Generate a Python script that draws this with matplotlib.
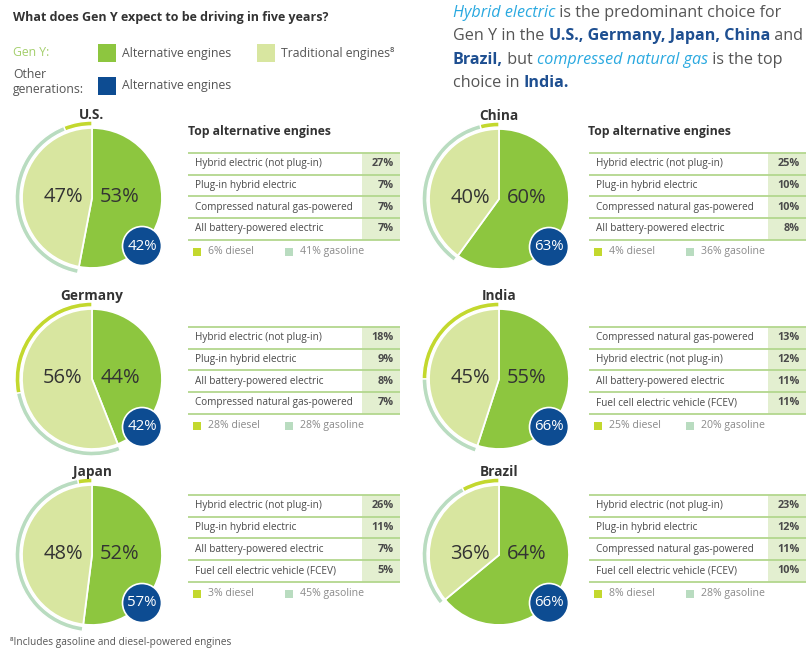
import matplotlib
matplotlib.use("Agg")
import matplotlib.pyplot as plt
from matplotlib.patches import Rectangle, Circle

plt.rcParams['font.family'] = ['Open Sans', 'DejaVu Sans']

# ---------------- data ----------------
countries = ["U.S.", "China", "Germany", "India", "Japan", "Brazil"]
genY_alt = [53, 60, 44, 55, 52, 64]
genY_trad = [47, 40, 56, 45, 48, 36]
other_alt = [42, 63, 42, 66, 57, 66]
diesel = [6, 4, 28, 25, 3, 8]
gasoline = [41, 36, 28, 20, 45, 28]

engines_us = ["Hybrid electric (not plug-in)", "Plug-in hybrid electric",
              "Compressed natural gas-powered", "All battery-powered electric"]
values_us = [27, 7, 7, 7]
engines_china = ["Hybrid electric (not plug-in)", "Plug-in hybrid electric",
                 "Compressed natural gas-powered", "All battery-powered electric"]
values_china = [25, 10, 10, 8]
engines_germany = ["Hybrid electric (not plug-in)", "Plug-in hybrid electric",
                   "All battery-powered electric", "Compressed natural gas-powered"]
values_germany = [18, 9, 8, 7]
engines_india = ["Compressed natural gas-powered", "Hybrid electric (not plug-in)",
                 "All battery-powered electric", "Fuel cell electric vehicle (FCEV)"]
values_india = [13, 12, 11, 11]
engines_japan = ["Hybrid electric (not plug-in)", "Plug-in hybrid electric",
                 "All battery-powered electric", "Fuel cell electric vehicle (FCEV)"]
values_japan = [26, 11, 7, 5]
engines_brazil = ["Hybrid electric (not plug-in)", "Plug-in hybrid electric",
                  "Compressed natural gas-powered", "Fuel cell electric vehicle (FCEV)"]
values_brazil = [23, 12, 11, 10]

engines = [engines_us, engines_china, engines_germany, engines_india, engines_japan, engines_brazil]
values = [values_us, values_china, values_germany, values_india, values_japan, values_brazil]

title = "What does Gen Y expect to be driving in five years?"
footnote = "\u2078Includes gasoline and diesel-powered engines"

# ---------------- style ----------------
W, H = 811, 653
C_ALT = "#8dc63f"
C_TRAD = "#d8e6a0"
C_DIESEL = "#c3d82e"
C_GAS = "#b9dcc0"
C_BLUE = "#0d4c92"
C_LINE = "#b3d78e"
C_CELL = "#e3efd0"
C_TXT = "#4a4a4a"
C_GRAY = "#8a8a8a"
C_CYAN = "#2aa9e0"
C_BOLDBLUE = "#1e4f91"

fig = plt.figure(figsize=(W / 100, H / 100), dpi=100)
ax = fig.add_axes([0, 0, 1, 1])


def Y(y):
    return H - y


# panel layout (pixel coords, top-left origin)
pie_cx = [92, 499, 92, 499, 92, 499]
pie_cy = [198, 199, 379, 379, 555, 555]
tab_left = [188, 589, 188, 589, 188, 589]
tab_right = [400, 806, 400, 806, 400, 806]
tab_top = [153, 153, 327, 327, 495, 495]
R = 70
ROW_H = 21.7

for i, c in enumerate(countries):
    cx, cy = pie_cx[i], Y(pie_cy[i])
    # outer ring: traditional split
    ring, _ = ax.pie([diesel[i], gasoline[i], genY_alt[i]], center=(cx, cy), radius=R + 7,
                     startangle=90, counterclock=True,
                     colors=[C_DIESEL, C_GAS, "white"],
                     wedgeprops=dict(width=5, edgecolor="white", linewidth=1.0))
    ring[2].set_visible(False)
    # inner pie
    ax.pie([genY_alt[i], genY_trad[i]], center=(cx, cy), radius=R,
           startangle=90, counterclock=False, colors=[C_ALT, C_TRAD],
           wedgeprops=dict(edgecolor="white", linewidth=1.3))
    ax.text(cx - 29, cy + 1, f"{genY_trad[i]}%", fontsize=14.5, color="#333333",
            ha="center", va="center")
    ax.text(cx + 28, cy + 1, f"{genY_alt[i]}%", fontsize=14.5, color="#333333",
            ha="center", va="center")
    # other generations
    ax.add_patch(Circle((cx + 50, cy - 48), 19.5, facecolor=C_BLUE, edgecolor="white",
                        linewidth=1.2, zorder=5))
    ax.text(cx + 50, cy - 48, f"{other_alt[i]}%", fontsize=10.8, color="white",
            ha="center", va="center", zorder=6)
    # country title
    ax.text(cx, Y(pie_cy[i] - 83), c, fontsize=9.8, fontweight="bold", color="#333333",
            ha="center", va="center")

    # table
    L, Rr, T = tab_left[i], tab_right[i], tab_top[i]
    n = len(engines[i])
    ax.add_patch(Rectangle((Rr - 38, Y(T + n * ROW_H)), 38, n * ROW_H,
                           facecolor=C_CELL, edgecolor="none", zorder=1))
    for k in range(n + 1):
        ax.plot([L, Rr], [Y(T + k * ROW_H)] * 2, color=C_LINE, lw=1.3, zorder=2,
                solid_capstyle="butt")
    for k, (name, v) in enumerate(zip(engines[i], values[i])):
        yy = Y(T + (k + 0.5) * ROW_H)
        ax.text(L + 7, yy, name, fontsize=7.2, color=C_TXT, ha="left", va="center", zorder=3)
        ax.text(Rr - 6, yy, f"{v}%", fontsize=7.8, fontweight="bold", color=C_TXT,
                ha="right", va="center", zorder=3)
    ly = Y(T + n * ROW_H + 12)
    ax.add_patch(Rectangle((L + 5, ly - 4), 8, 8, facecolor=C_DIESEL, edgecolor="none"))
    ax.text(L + 20, ly, f"{diesel[i]}% diesel", fontsize=7.6, color=C_GRAY, ha="left", va="center")
    ax.add_patch(Rectangle((L + 97, ly - 4), 8, 8, facecolor=C_GAS, edgecolor="none"))
    ax.text(L + 112, ly, f"{gasoline[i]}% gasoline", fontsize=7.6, color=C_GRAY, ha="left", va="center")

for L in (188, 588):
    ax.text(L, Y(132), "Top alternative engines", fontsize=8.8, fontweight="bold",
            color="#333333", ha="left", va="center")

# header
ax.text(13, Y(18), title, fontsize=9, fontweight="bold", color="#333333", ha="left", va="center")
ax.text(13, Y(53), "Gen Y:", fontsize=8.8, color="#a4cf6c", ha="left", va="center")
ax.text(13, Y(75), "Other", fontsize=8.8, color="#555555", ha="left", va="center")
ax.text(13, Y(90), "generations:", fontsize=8.8, color="#555555", ha="left", va="center")
ax.add_patch(Rectangle((98, Y(62)), 18, 18, facecolor=C_ALT, edgecolor="none"))
ax.text(122, Y(53), "Alternative engines", fontsize=8.8, color="#555555", ha="left", va="center")
ax.add_patch(Rectangle((257, Y(62)), 18, 18, facecolor=C_TRAD, edgecolor="none"))
ax.text(281, Y(53), "Traditional engines\u2078", fontsize=8.8, color="#555555", ha="left", va="center")
ax.add_patch(Rectangle((98, Y(95)), 18, 18, facecolor=C_BLUE, edgecolor="none"))
ax.text(122, Y(86), "Alternative engines", fontsize=8.8, color="#555555", ha="left", va="center")

# rich paragraph
fig.canvas.draw()
renderer = fig.canvas.get_renderer()
reg = dict(color="#555555")
ita = dict(color=C_CYAN, style="italic")
bld = dict(color=C_BOLDBLUE, fontweight="bold")
lines = [
    [("Hybrid electric", ita), (" is the predominant choice for", reg)],
    [("Gen Y in the ", reg), ("U.S., Germany, Japan, China", bld), (" and", reg)],
    [("Brazil,", bld), (" but ", reg), ("compressed natural gas", ita), (" is the top", reg)],
    [("choice in ", reg), ("India.", bld)],
]
for li, parts in enumerate(lines):
    x = 453
    for s, st in parts:
        t = ax.text(x, Y(13 + li * 23.3), s, fontsize=11.6, ha="left", va="center", **st)
        x += t.get_window_extent(renderer).width

ax.text(10, Y(643), footnote, fontsize=7.3, color="#555555", ha="left", va="center")

ax.set_xlim(0, W)
ax.set_ylim(0, H)
ax.set_aspect("auto")
ax.axis("off")
fig.savefig("out.png", dpi=100)
